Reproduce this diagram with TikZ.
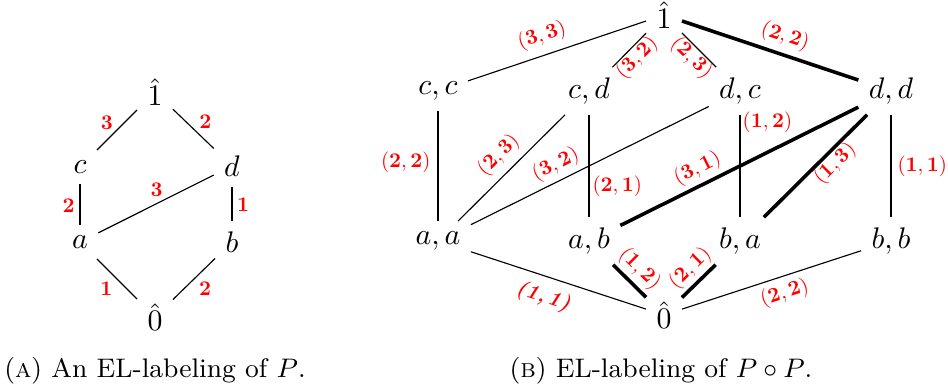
\documentclass[tikz,border=0pt]{standalone}
\usepackage{graphicx}
\newcommand{\elab}[1]{\scalebox{0.7}{$\mathbf{#1}$}}
\begin{document}
\begin{tikzpicture}[x=0.3356pt,y=-0.3356pt,
  vx/.style={font=\normalsize, inner sep=3.33pt},
  lab/.style={text=red, inner sep=2.33pt},
  thk/.style={line width=1.2pt},
  thn/.style={line width=0.38pt},
  captxt/.style={font=\small, anchor=base}]
\useasboundingbox (0,0) rectangle (948,392);
% ---------- left poset P ----------
\node[vx] (H1a) at (155,92) {$\hat{1}$};
\node[vx] (ca) at (80,167) {$c$};
\node[vx] (da) at (232,166) {$d$};
\node[vx] (aa) at (80,242) {$a$};
\node[vx] (ba) at (232,242) {$b$};
\node[vx] (H0a) at (155,317) {$\hat{0}$};
\draw[thn] (ca) -- node[lab, midway, xshift=-3.36pt, yshift=2.52pt] {\elab{3}} (H1a);
\draw[thn] (da) -- node[lab, midway, xshift=4.03pt, yshift=2.35pt] {\elab{2}} (H1a);
\draw[thn] (aa) -- node[lab, midway, xshift=-3.86pt, yshift=-0.5pt] {\elab{2}} (ca);
\draw[thn] (aa) -- node[lab, midway, xshift=0.17pt, yshift=4.7pt] {\elab{3}} (da);
\draw[thn] (ba) -- node[lab, midway, xshift=3.69pt, yshift=-0.17pt] {\elab{1}} (da);
\draw[thn] (aa) -- node[lab, midway, xshift=-3.52pt, yshift=-3.36pt] {\elab{1}} (H0a);
\draw[thn] (ba) -- node[lab, midway, xshift=3.69pt, yshift=-3.36pt] {\elab{2}} (H0a);
% ---------- right poset P o P ----------
\node[vx] (H1) at (664,15) {$\hat{1}$};
\node[vx] (cc) at (438,91) {$c,c$};
\node[vx] (cd) at (589,91) {$c,d$};
\node[vx] (dc) at (740,91) {$d,c$};
\node[vx] (dd) at (891,91) {$d,d$};
\node[vx] (aa2) at (438,241) {$a,a$};
\node[vx] (ab) at (589,241) {$a,b$};
\node[vx] (ba2) at (740,241) {$b,a$};
\node[vx] (bb) at (891,241) {$b,b$};
\node[vx] (H0) at (664,315) {$\hat{0}$};
\draw[thn] (cc) -- node[lab, sloped, above, pos=.45, inner sep=2.8pt] {\elab{(3,3)}} (H1);
\draw[thn] (cd) -- node[lab, sloped, below, pos=.5, inner sep=0pt] {\elab{(3,2)}} (H1);
\draw[thn] (dc) -- node[lab, sloped, below, pos=.5, inner sep=0pt] {\elab{(2,3)}} (H1);
\draw[thk] (H1) -- node[lab, sloped, above, pos=.552, inner sep=2pt] {\elab{(2,2)}} (dd);
\draw[thn] (cc) -- node[lab, left, pos=.47] {\elab{(2,2)}} (aa2);
\draw[thn] (cd) -- node[lab, sloped, above, pos=.5, inner sep=2.4pt] {\elab{(2,3)}} (aa2);
\draw[thn] (dc) -- node[lab, sloped, above, pos=.613, inner sep=1.7pt] {\elab{(3,2)}} (aa2);
\draw[thn] (cd) -- node[lab, right, pos=.70, inner sep=1pt] {\elab{(2,1)}} (ab);
\draw[thk] (dd) -- node[lab, sloped, above, pos=.645, inner sep=1.5pt] {\elab{(3,1)}} (ab);
\draw[thn] (dc) -- node[lab, right, pos=.07, inner sep=0.7pt] {\elab{(1,2)}} (ba2);
\draw[thk] (dd) -- node[lab, sloped, below, pos=.394, inner sep=0pt] {\elab{(1,3)}} (ba2);
\draw[thn] (dd) -- node[lab, right, midway, inner sep=2pt] {\elab{(1,1)}} (bb);
\draw[thn] (aa2) -- node[lab, sloped, below, pos=.449, inner sep=3.3pt] {\scalebox{0.7}{\bfseries\itshape (1,\,1)}} (H0);
\draw[thk] (ab) -- node[lab, sloped, above, pos=.47, inner sep=1.2pt] {\elab{(1,2)}} (H0);
\draw[thk] (ba2) -- node[lab, sloped, above, pos=.44, inner sep=1pt] {\elab{(2,1)}} (H0);
\draw[thn] (bb) -- node[lab, sloped, below, pos=.456, inner sep=1.9pt] {\elab{(2,2)}} (H0);
% ---------- captions ----------
\node[captxt] (capA) at (155,378) {(\textsc{a}) An EL-labeling of $P$.};
\node[captxt] (capB) at (661,378) {(\textsc{b}) EL-labeling of $P\circ P$.};
\end{tikzpicture}
\end{document}
